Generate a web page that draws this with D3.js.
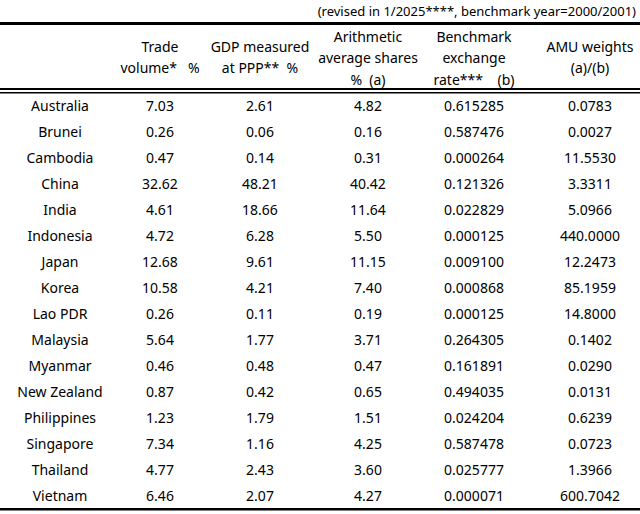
<!DOCTYPE html>
<html><head><meta charset="utf-8">
<script src="https://cdn.jsdelivr.net/npm/d3@7"></script>
<style>body{margin:0;background:#fff}text{font-family:"Noto Sans","DejaVu Sans",sans-serif;fill:#000}</style>
</head><body><svg id="c" width="640" height="514"></svg>
<script>
const countries=["Australia","Brunei","Cambodia","China","India","Indonesia","Japan","Korea","Lao PDR","Malaysia","Myanmar","New Zealand","Philippines","Singapore","Thailand","Vietnam"];
const tradeVolume=["7.03","0.26","0.47","32.62","4.61","4.72","12.68","10.58","0.26","5.64","0.46","0.87","1.23","7.34","4.77","6.46"];
const gdpPPP=["2.61","0.06","0.14","48.21","18.66","6.28","9.61","4.21","0.11","1.77","0.48","0.42","1.79","1.16","2.43","2.07"];
const avgShares=["4.82","0.16","0.31","40.42","11.64","5.50","11.15","7.40","0.19","3.71","0.47","0.65","1.51","4.25","3.60","4.27"];
const benchRate=["0.615285","0.587476","0.000264","0.121326","0.022829","0.000125","0.009100","0.000868","0.000125","0.264305","0.161891","0.494035","0.024204","0.587478","0.025777","0.000071"];
const amuWeights=["0.0783","0.0027","11.5530","3.3311","5.0966","440.0000","12.2473","85.1959","14.8000","0.1402","0.0290","0.0131","0.6239","0.0723","1.3966","600.7042"];
const headers=[[],["Trade","volume*   %"],["GDP measured","at PPP**  %"],["Arithmetic","average shares","%  (a)"],["Benchmark","exchange","rate***    (b)"],["AMU weights","(a)/(b)"]];
const title="(revised in 1/2025****, benchmark year=2000/2001)";

const cols=[countries,tradeVolume,gdpPPP,avgShares,benchRate,amuWeights];
const svg=d3.select("#c");
const x=d3.scaleOrdinal().domain(d3.range(6)).range([60,160,260,368,474,590]);
const y=d3.scaleBand().domain(countries).range([93,509]);

svg.append("text").attr("x",636).attr("y",16).attr("text-anchor","end").attr("font-size",13).attr("xml:space","preserve").text(title);
svg.append("rect").attr("x",0).attr("y",22).attr("width",640).attr("height",3);
svg.append("rect").attr("x",0).attr("y",88).attr("width",640).attr("height",2);
svg.append("rect").attr("x",0).attr("y",92).attr("width",640).attr("height",1.5);
svg.append("rect").attr("x",0).attr("y",508).attr("width",640).attr("height",2.5);

headers.forEach((h,i)=>{
  const base = h.length===3?37:47;
  h.forEach((t,j)=>svg.append("text").attr("x",x(i)).attr("y",base+j*21.5).attr("dy","0.35em")
    .attr("text-anchor","middle").attr("font-size",14).attr("xml:space","preserve").text(t));
});
cols.forEach((col,i)=>{
  svg.append("g").selectAll("text").data(col).join("text")
    .attr("x",x(i)).attr("y",(d,k)=>y(countries[k])+y.bandwidth()/2).attr("dy","0.35em")
    .attr("text-anchor","middle").attr("font-size",14).text(d=>d);
});
</script></body></html>
